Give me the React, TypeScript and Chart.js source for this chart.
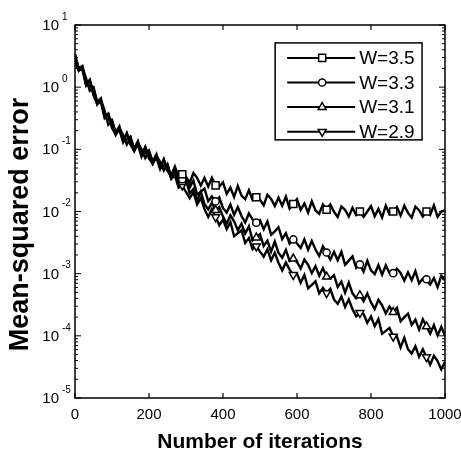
import React, { useEffect, useRef } from 'react';
import { Chart, registerables } from 'chart.js';

Chart.register(...registerables);

const FONT = "'Liberation Sans', Arial, Helvetica, sans-serif";

const iterations = [
  0, 10, 20, 30, 40, 50, 60, 70, 80, 90,
  100, 110, 120, 130, 140, 150, 160, 170, 180, 190,
  200, 210, 220, 230, 240, 250, 260, 270, 280, 290,
  300, 310, 320, 330, 340, 350, 360, 370, 380, 390,
  400, 410, 420, 430, 440, 450, 460, 470, 480, 490,
  500, 510, 520, 530, 540, 550, 560, 570, 580, 590,
  600, 610, 620, 630, 640, 650, 660, 670, 680, 690,
  700, 710, 720, 730, 740, 750, 760, 770, 780, 790,
  800, 810, 820, 830, 840, 850, 860, 870, 880, 890,
  900, 910, 920, 930, 940, 950, 960, 970, 980, 990,
  1000,
];

const w35 = [
  3.44, 1.92, 1.91, 1.06, 1.31, 0.747, 0.541, 0.62, 0.344, 0.372,
  0.233, 0.171, 0.223, 0.17, 0.12, 0.152, 0.103, 0.135, 0.0783, 0.0871,
  0.0969, 0.0608, 0.0727, 0.0482, 0.0688, 0.0451, 0.0384, 0.0527, 0.0359, 0.0398,
  0.0361, 0.029, 0.0416, 0.0348, 0.0262, 0.0347, 0.0253, 0.0347, 0.0263, 0.0251,
  0.0293, 0.0192, 0.0243, 0.0171, 0.0259, 0.018, 0.0158, 0.0219, 0.0153, 0.017,
  0.0154, 0.0126, 0.0186, 0.0159, 0.0123, 0.0167, 0.0124, 0.0174, 0.0111, 0.0132,
  0.0157, 0.0106, 0.0135, 0.0096, 0.0146, 0.0104, 0.0092, 0.013, 0.0107, 0.013,
  0.0099, 0.0082, 0.0121, 0.0106, 0.0083, 0.0115, 0.0088, 0.01, 0.0082, 0.01,
  0.0122, 0.0084, 0.011, 0.008, 0.0125, 0.009, 0.01, 0.0118, 0.0086, 0.0124,
  0.0095, 0.008, 0.012, 0.0105, 0.0083, 0.01, 0.0088, 0.0126, 0.0082, 0.01,
  0.0104,
];

const w33 = [
  2.54, 1.88, 2.05, 1.14, 1.3, 0.789, 0.528, 0.63, 0.42, 0.249,
  0.282, 0.188, 0.234, 0.133, 0.145, 0.161, 0.0983, 0.118, 0.0764, 0.109,
  0.0715, 0.0594, 0.078, 0.0519, 0.0682, 0.0476, 0.035, 0.0478, 0.0381, 0.0331,
  0.0347, 0.0242, 0.0316, 0.0188, 0.0209, 0.0233, 0.0146, 0.0174, 0.0145, 0.0169,
  0.0113, 0.0096, 0.013, 0.0088, 0.0118, 0.00846, 0.00666, 0.00931, 0.00743, 0.0066,
  0.00726, 0.00518, 0.00693, 0.00421, 0.00479, 0.00558, 0.00359, 0.00448, 0.00304, 0.00355,
  0.00305, 0.00259, 0.00356, 0.00243, 0.00334, 0.00244, 0.00192, 0.00275, 0.00219, 0.00169,
  0.00224, 0.00164, 0.00224, 0.00139, 0.00162, 0.00189, 0.00124, 0.00141, 0.00108, 0.00161,
  0.00113, 0.000984, 0.00138, 0.000963, 0.00136, 0.00102, 0.00102, 0.0012, 0.00103, 0.000774,
  0.00105, 0.000784, 0.0011, 0.000698, 0.000832, 0.000813, 0.000667, 0.000854, 0.000607, 0.000926,
  0.00078,
];

const w31 = [
  2.68, 1.83, 2.09, 1.39, 0.872, 0.955, 0.581, 0.662, 0.328, 0.3,
  0.299, 0.18, 0.205, 0.13, 0.181, 0.119, 0.0959, 0.126, 0.0821, 0.108,
  0.0754, 0.0579, 0.0793, 0.0633, 0.0457, 0.0576, 0.0367, 0.0469, 0.0271, 0.0295,
  0.0321, 0.0197, 0.023, 0.0149, 0.0208, 0.0133, 0.0108, 0.0138, 0.0105, 0.0118,
  0.00827, 0.00635, 0.00869, 0.00694, 0.005, 0.00633, 0.00441, 0.00576, 0.00342, 0.0038,
  0.00433, 0.00278, 0.0034, 0.00226, 0.00329, 0.00216, 0.0018, 0.00241, 0.0016, 0.00174,
  0.00154, 0.00121, 0.00169, 0.00139, 0.00102, 0.00132, 0.000924, 0.00123, 0.000891, 0.000832,
  0.000947, 0.000608, 0.000744, 0.000494, 0.000719, 0.000483, 0.000402, 0.000447, 0.000359, 0.000482,
  0.000345, 0.000271, 0.000379, 0.00031, 0.000228, 0.000296, 0.00024, 0.000282, 0.000171, 0.0002,
  0.000227, 0.00015, 0.000183, 0.000126, 0.000185, 0.000141, 0.000108, 0.000149, 0.000101, 0.000139,
  0.0000998,
];

const w29 = [
  3.24, 2.02, 2.19, 1.08, 1.05, 1.01, 0.554, 0.578, 0.32, 0.375,
  0.221, 0.175, 0.219, 0.139, 0.18, 0.125, 0.0936, 0.128, 0.1, 0.0723,
  0.0913, 0.0637, 0.0833, 0.0494, 0.055, 0.0561, 0.0334, 0.0382, 0.0242, 0.0263,
  0.0206, 0.0164, 0.0205, 0.013, 0.0164, 0.0109, 0.00816, 0.0109, 0.00813, 0.00601,
  0.00743, 0.00518, 0.00677, 0.00402, 0.00447, 0.00497, 0.00312, 0.00373, 0.00247, 0.00275,
  0.00226, 0.00188, 0.00247, 0.00164, 0.00216, 0.0015, 0.00113, 0.00151, 0.00116, 0.000955,
  0.001, 0.000715, 0.000956, 0.000581, 0.000661, 0.000753, 0.000483, 0.000591, 0.00049, 0.000571,
  0.000384, 0.000326, 0.000428, 0.000292, 0.000383, 0.000268, 0.000206, 0.000234, 0.000225, 0.000162,
  0.000205, 0.000143, 0.000186, 0.000108, 0.00012, 0.000134, 0.0000977, 0.000098, 0.000065, 0.0000926,
  0.0000608, 0.0000517, 0.0000679, 0.0000462, 0.0000608, 0.0000457, 0.0000342, 0.0000478, 0.0000391, 0.0000288,
  0.0000381,
];

const seriesLabels = ['W=3.5', 'W=3.3', 'W=3.1', 'W=2.9'];
const seriesValues = [w35, w33, w31, w29];
const markerIters = [290, 380, 490, 590, 680, 770, 860, 950];
const xTicks = [0, 200, 400, 600, 800, 1000];
const yExponents = [1, 0, -1, -2, -3, -4, -5];
const yTitle = 'Mean-squared error';
const xTitle = 'Number of iterations';

const markerStyles = [
  { style: 'rect', radius: 5, rotation: 0 },
  { style: 'circle', radius: 3.6, rotation: 0 },
  { style: 'triangle', radius: 4.6, rotation: 0 },
  { style: 'triangle', radius: 4.6, rotation: 180 },
];

function drawMarker(ctx: CanvasRenderingContext2D, kind: number, x: number, y: number) {
  const m = markerStyles[kind];
  const r = m.radius;
  ctx.beginPath();
  if (m.style === 'rect') {
    const s = r * Math.SQRT1_2;
    ctx.rect(x - s, y - s, 2 * s, 2 * s);
  } else if (m.style === 'circle') {
    ctx.arc(x, y, r, 0, Math.PI * 2);
  } else {
    let a = (m.rotation * Math.PI) / 180;
    ctx.moveTo(x + Math.sin(a) * r, y - Math.cos(a) * r);
    a += (2 * Math.PI) / 3;
    ctx.lineTo(x + Math.sin(a) * r, y - Math.cos(a) * r);
    a += (2 * Math.PI) / 3;
    ctx.lineTo(x + Math.sin(a) * r, y - Math.cos(a) * r);
    ctx.closePath();
  }
  ctx.fillStyle = '#fff';
  ctx.fill();
  ctx.lineWidth = 1.5;
  ctx.strokeStyle = '#000';
  ctx.stroke();
}

const decorPlugin = {
  id: 'decor',
  afterDraw(chart: any) {
    const { ctx, chartArea } = chart;
    const { left, right, top, bottom } = chartArea;
    const xs = chart.scales.x;
    const ys = chart.scales.y;
    ctx.save();
    ctx.strokeStyle = '#000';
    ctx.fillStyle = '#000';

    ctx.lineWidth = 1.5;
    ctx.strokeRect(left, top, right - left, bottom - top);

    const seg = (x1: number, y1: number, x2: number, y2: number) => {
      ctx.beginPath();
      ctx.moveTo(x1, y1);
      ctx.lineTo(x2, y2);
      ctx.stroke();
    };

    ctx.lineWidth = 1.2;
    xTicks.forEach((v) => {
      const px = xs.getPixelForValue(v);
      seg(px, bottom, px, bottom - 5);
      seg(px, top, px, top + 5);
    });

    ctx.lineWidth = 1;
    yExponents.forEach((e) => {
      const kMax = e === 1 ? 1 : 9;
      for (let k = 1; k <= kMax; k++) {
        const v = k * Math.pow(10, e);
        const py = ys.getPixelForValue(v);
        const len = k === 1 ? 6 : 3;
        seg(left, py, left + len, py);
        seg(right, py, right - len, py);
      }
    });

    yExponents.forEach((e) => {
      const py = ys.getPixelForValue(Math.pow(10, e));
      ctx.fillStyle = '#000';
      ctx.font = `15px ${FONT}`;
      ctx.textAlign = 'right';
      ctx.textBaseline = 'middle';
      ctx.fillText('10', left - 16, py + 1);
      ctx.font = `10px ${FONT}`;
      ctx.textAlign = 'left';
      ctx.fillText(String(e), left - 13, py - 8);
    });

    // y-axis title
    const h = bottom - top;
    ctx.save();
    ctx.translate(21, top + h * 0.535);
    ctx.rotate(-Math.PI / 2);
    ctx.fillStyle = '#000';
    ctx.font = `bold 27px ${FONT}`;
    ctx.textAlign = 'center';
    ctx.textBaseline = 'middle';
    ctx.fillText(yTitle, 0, 0);
    ctx.restore();

    // legend
    const w = right - left;
    const bx = left + w * 0.541;
    const by = top + h * 0.048;
    const bw = w * 0.397;
    const bh = h * 0.26;
    ctx.fillStyle = '#fff';
    ctx.fillRect(bx, by, bw, bh);
    ctx.lineWidth = 1.5;
    ctx.strokeStyle = '#000';
    ctx.strokeRect(bx, by, bw, bh);
    seriesLabels.forEach((lab, i) => {
      const ry = by + 15 + i * 24.6;
      ctx.lineWidth = 2;
      ctx.strokeStyle = '#000';
      seg(bx + 12, ry, bx + 80, ry);
      drawMarker(ctx, i, bx + 47, ry);
      ctx.fillStyle = '#000';
      ctx.font = `19px ${FONT}`;
      ctx.textAlign = 'left';
      ctx.textBaseline = 'middle';
      ctx.fillText(lab, bx + 84, ry + 1);
    });

    ctx.restore();
  },
};

export default function App() {
  const ref = useRef<HTMLCanvasElement | null>(null);

  useEffect(() => {
    if (!ref.current) return;
    const datasets = seriesValues.map((vals, si) => ({
      label: seriesLabels[si],
      data: iterations.map((it, i) => ({ x: it, y: vals[i] })),
      borderColor: '#000',
      borderWidth: 2.4,
      tension: 0,
      pointStyle: markerStyles[si].style,
      pointRotation: markerStyles[si].rotation,
      pointRadius: iterations.map((it) => (markerIters.includes(it) ? markerStyles[si].radius : 0)),
      pointBackgroundColor: '#fff',
      pointBorderColor: '#000',
      pointBorderWidth: 1.5,
      fill: false,
    }));

    const chart = new Chart(ref.current, {
      type: 'line',
      data: { datasets },
      options: {
        responsive: false,
        animation: false,
        layout: { padding: { top: 25, right: 16, left: 0, bottom: 0 } },
        plugins: { legend: { display: false }, tooltip: { enabled: false } },
        scales: {
          x: {
            type: 'linear',
            min: 0,
            max: 1000,
            grid: { display: false, drawTicks: false },
            border: { display: false },
            ticks: {
              stepSize: 200,
              color: '#000',
              font: { family: FONT, size: 15 },
              padding: 8,
              maxRotation: 0,
              callback: (v: any) => String(v),
            },
            title: {
              display: true,
              text: xTitle,
              color: '#000',
              font: { family: FONT, size: 21, weight: 'bold' },
              padding: { top: 0, bottom: 4 },
            },
            afterFit: (s: any) => {
              s.height = 61;
              s.paddingLeft = 0;
              s.paddingRight = 0;
            },
          },
          y: {
            type: 'logarithmic',
            min: 1e-5,
            max: 10,
            grid: { display: false, drawTicks: false },
            border: { display: false },
            ticks: { display: false },
            title: { display: false },
            afterFit: (s: any) => {
              s.width = 75;
              s.paddingTop = 0;
              s.paddingBottom = 0;
            },
          },
        },
      } as any,
      plugins: [decorPlugin],
    });
    return () => chart.destroy();
  }, []);

  return (
    <div style={{ position: 'absolute', left: 0, top: 0, width: 461, height: 459, background: '#fff' }}>
      <canvas ref={ref} width={461} height={459} style={{ display: 'block' }} />
    </div>
  );
}
